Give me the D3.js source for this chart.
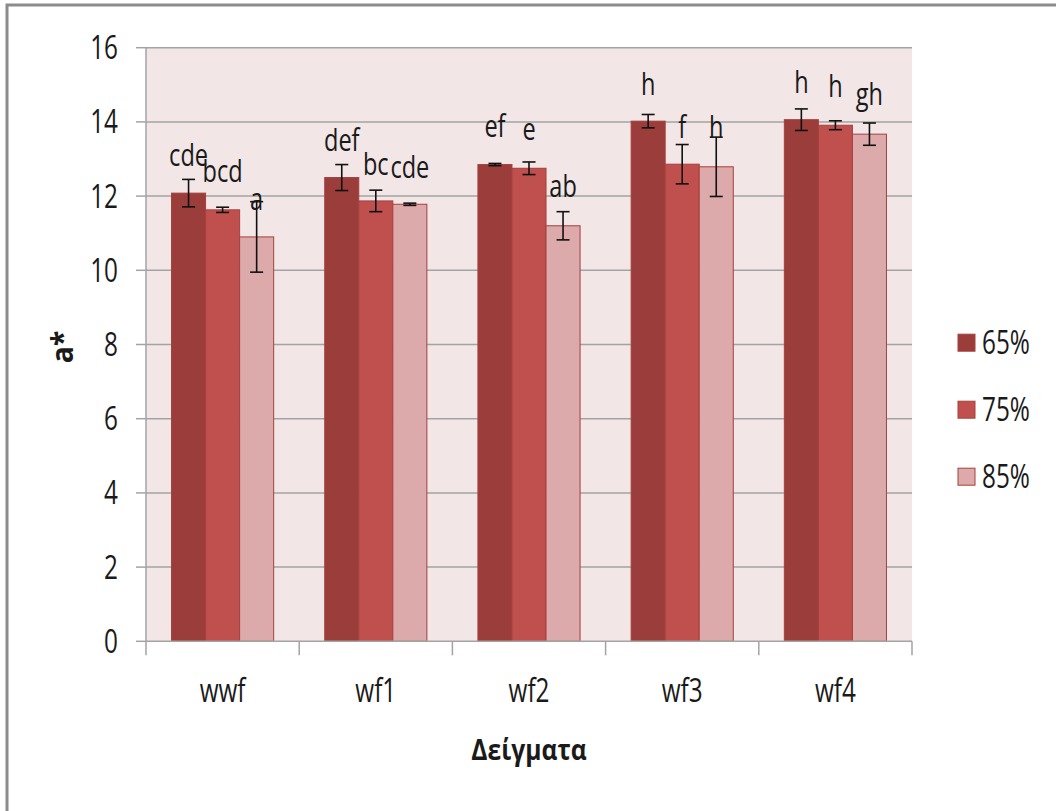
<!DOCTYPE html>
<html>
<head>
<meta charset="utf-8">
<script src="https://cdn.jsdelivr.net/npm/d3@7"></script>
<style>
  body { margin: 0; background: #fff; }
  svg text { font-family: "Open Sans", "DejaVu Sans", sans-serif; fill: #1a1a1a; }
</style>
</head>
<body>
<div id="chart"></div>
<script>
// Chart data
var categories = ["wwf", "wf1", "wf2", "wf3", "wf4"];
var seriesNames = ["65%", "75%", "85%"];
var values65 = [12.08, 12.50, 12.85, 14.02, 14.06];
var values75 = [11.63, 11.87, 12.75, 12.86, 13.91];
var values85 = [10.90, 11.78, 11.20, 12.79, 13.67];
var err65 = [0.37, 0.35, 0.03, 0.18, 0.29];
var err75 = [0.07, 0.29, 0.17, 0.53, 0.12];
var err85 = [0.95, 0.03, 0.38, 0.80, 0.30];
// significance letters and where they sit (in a* units)
var letters65 = ["cde", "def", "ef", "h", "h"];
var letters75 = ["bcd", "bc", "e", "f", "h"];
var letters85 = ["a", "cde", "ab", "h", "gh"];
var labelAt65 = [12.82, 13.22, 13.60, 14.72, 14.77];
var labelAt75 = [12.39, 12.57, 13.51, 13.56, 14.68];
var labelAt85 = [11.63, 12.48, 11.97, 13.56, 14.45];
var yTicks = [0, 2, 4, 6, 8, 10, 12, 14, 16];
var colors = ["#9b3d3b", "#c0504d", "#dcaaaa"];

var width = 1056, height = 811;
var plot = { left: 146, right: 912, top: 47.7, bottom: 641.3 };
var sx = 0.76; // narrow the glyphs like the original font

// place a text with horizontal squeeze
function squeeze(x, y) {
  return `translate(${x},${y}) scale(${sx},1)`;
}

var svg = d3.select("#chart").append("svg")
  .attr("width", width)
  .attr("height", height);

// outer frame
svg.append("rect")
  .attr("x", 7).attr("y", 5)
  .attr("width", 1100).attr("height", 900)
  .attr("fill", "#fff")
  .attr("stroke", "#8c8c8c")
  .attr("stroke-width", 3);

var x0 = d3.scaleBand().domain(categories).range([plot.left, plot.right]);
var x1 = d3.scaleBand().domain(seriesNames).range([0, x0.bandwidth()]).paddingOuter(0.75);
var y = d3.scaleLinear().domain([0, 16]).range([plot.bottom, plot.top]);

// plot background
svg.append("rect")
  .attr("x", plot.left).attr("y", plot.top)
  .attr("width", plot.right - plot.left).attr("height", plot.bottom - plot.top)
  .attr("fill", "#f2e6e6");

// gridlines
svg.append("g")
  .selectAll("line")
  .data(yTicks.slice(1))
  .join("line")
  .attr("x1", plot.left).attr("x2", plot.right)
  .attr("y1", d => y(d)).attr("y2", d => y(d))
  .attr("stroke", "#a3a3a3")
  .attr("stroke-width", 1.5);

// build rows per series
var seriesData = [
  { name: "65%", values: values65, err: err65, letters: letters65, labelAt: labelAt65 },
  { name: "75%", values: values75, err: err75, letters: letters75, labelAt: labelAt75 },
  { name: "85%", values: values85, err: err85, letters: letters85, labelAt: labelAt85 }
];
var rows = [];
seriesData.forEach((s, si) => {
  categories.forEach((c, ci) => {
    rows.push({ cat: c, series: s.name, color: colors[si], value: s.values[ci], err: s.err[ci], letter: s.letters[ci], labelAt: s.labelAt[ci] });
  });
});

// bars
svg.append("g")
  .selectAll("rect")
  .data(rows)
  .join("rect")
  .attr("x", d => x0(d.cat) + x1(d.series))
  .attr("y", d => y(d.value))
  .attr("width", x1.bandwidth())
  .attr("height", d => y(0) - y(d.value))
  .attr("fill", d => d.color)
  .attr("stroke", "#a5403d")
  .attr("stroke-width", 1);

// error bars
var eb = svg.append("g").attr("stroke", "#111").attr("stroke-width", 1.6);
var cx = d => x0(d.cat) + x1(d.series) + x1.bandwidth() / 2;
eb.selectAll("line.v").data(rows).join("line").attr("class", "v")
  .attr("x1", cx).attr("x2", cx)
  .attr("y1", d => y(d.value + d.err)).attr("y2", d => y(d.value - d.err));
eb.selectAll("line.t").data(rows).join("line").attr("class", "t")
  .attr("x1", d => cx(d) - 6.5).attr("x2", d => cx(d) + 6.5)
  .attr("y1", d => y(d.value + d.err)).attr("y2", d => y(d.value + d.err));
eb.selectAll("line.b").data(rows).join("line").attr("class", "b")
  .attr("x1", d => cx(d) - 6.5).attr("x2", d => cx(d) + 6.5)
  .attr("y1", d => y(d.value - d.err)).attr("y2", d => y(d.value - d.err));

// letters
svg.append("g")
  .attr("font-size", 31)
  .attr("text-anchor", "middle")
  .selectAll("text")
  .data(rows)
  .join("text")
  .attr("transform", d => squeeze(cx(d), y(d.labelAt)))
  .text(d => d.letter);

// y axis
var gy = svg.append("g");
gy.append("line")
  .attr("x1", plot.left).attr("x2", plot.left)
  .attr("y1", plot.top).attr("y2", plot.bottom)
  .attr("stroke", "#a3a3a3").attr("stroke-width", 1.5);
gy.selectAll("line.tick").data(yTicks).join("line").attr("class", "tick")
  .attr("x1", plot.left - 10).attr("x2", plot.left)
  .attr("y1", d => y(d)).attr("y2", d => y(d))
  .attr("stroke", "#a3a3a3").attr("stroke-width", 1.5);
gy.selectAll("text").data(yTicks).join("text")
  .attr("transform", d => squeeze(118, y(d) + 11.5))
  .attr("text-anchor", "end")
  .attr("font-size", 32)
  .text(d => d);

// x axis (ticks at category boundaries)
var gx = svg.append("g").attr("transform", `translate(0,${plot.bottom})`);
gx.append("line")
  .attr("x1", plot.left).attr("x2", plot.right)
  .attr("stroke", "#a3a3a3").attr("stroke-width", 1.5);
var bounds = categories.map(c => x0(c)).concat([plot.right]);
gx.selectAll("line.tick").data(bounds).join("line").attr("class", "tick")
  .attr("x1", d => d).attr("x2", d => d)
  .attr("y1", 0).attr("y2", 14)
  .attr("stroke", "#a3a3a3").attr("stroke-width", 1.5);
gx.selectAll("text").data(categories).join("text")
  .attr("transform", d => squeeze(x0(d) + x0.bandwidth() / 2, 61))
  .attr("text-anchor", "middle")
  .attr("font-size", 32)
  .text(d => d);

// axis titles
svg.append("text")
  .attr("transform", "translate(73,347) rotate(-90) scale(0.95,1)")
  .attr("text-anchor", "middle")
  .attr("font-size", 30)
  .attr("font-weight", "bold")
  .text("a*");
svg.append("text")
  .attr("transform", "translate(529,760) scale(0.88,1)")
  .attr("text-anchor", "middle")
  .attr("font-size", 28)
  .attr("font-weight", "bold")
  .text("Δείγματα");

// legend
var legend = svg.append("g")
  .selectAll("g")
  .data(seriesNames)
  .join("g")
  .attr("transform", (d, i) => `translate(958,${342.7 + i * 67})`);
legend.append("rect")
  .attr("x", 0).attr("y", -8.5)
  .attr("width", 17).attr("height", 17)
  .attr("fill", (d, i) => colors[i])
  .attr("stroke", "#a5403d");
legend.append("text")
  .attr("transform", squeeze(24, 11.5))
  .attr("font-size", 32)
  .text(d => d);
</script>
</body>
</html>
